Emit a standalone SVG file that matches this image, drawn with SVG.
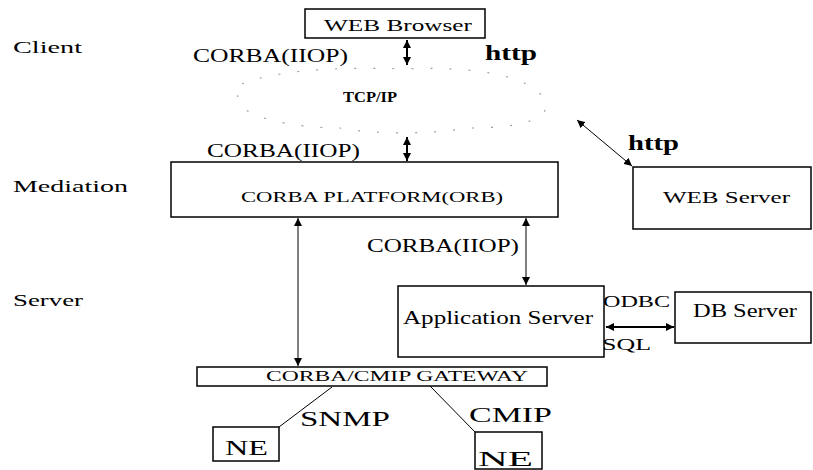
<svg xmlns="http://www.w3.org/2000/svg" width="813" height="470" viewBox="0 0 813 470" font-family="'Liberation Serif', 'DejaVu Serif', serif">
<style>
  text { font-family: "Liberation Serif", "DejaVu Serif", serif; fill: #000; }
  .box { fill: #fff; stroke: #000; stroke-width: 1.5; }
  .ln { stroke: #000; stroke-width: 1; fill: none; }
  .thick { stroke: #000; stroke-width: 2; fill: none; }
  .lbl { font-size: 18px; }
  .bold { font-weight: bold; }
  .cloud { stroke: #a0a0a0; stroke-width: 1.2; fill: none; stroke-dasharray: 2 17; }
</style>
<defs>
  <marker id="ah" viewBox="0 0 10 10" refX="10" refY="5" markerWidth="8" markerHeight="8" markerUnits="userSpaceOnUse" orient="auto-start-reverse">
    <path d="M0,0 L10,5 L0,10 z" fill="#000"/>
  </marker>
</defs>

<g id="tiers">
  <text x="13" y="53" font-size="17" textLength="69" lengthAdjust="spacingAndGlyphs">Client</text>
  <text x="13" y="192" font-size="17" textLength="115" lengthAdjust="spacingAndGlyphs">Mediation</text>
  <text x="13" y="306" font-size="17" textLength="70" lengthAdjust="spacingAndGlyphs">Server</text>
</g>

<g id="cloud">
  <path class="cloud" d="M242,84 C270,72 330,66 400,69 C470,66 530,74 545,100 C552,118 525,128 470,128 C430,134 380,135 340,128 C290,128 240,116 238,100 C237,92 238,88 242,84 Z"/>
  <text x="343" y="102" font-size="14" class="bold" textLength="54" lengthAdjust="spacingAndGlyphs">TCP/IP</text>
</g>

<g id="connectors">
  <line class="thick" x1="407" y1="40" x2="407" y2="65" marker-start="url(#ah)" marker-end="url(#ah)"/>
  <line class="thick" x1="407" y1="137" x2="407" y2="161" marker-start="url(#ah)" marker-end="url(#ah)"/>
  <line class="ln" x1="577" y1="120" x2="632" y2="166" marker-start="url(#ah)" marker-end="url(#ah)"/>
  <line class="ln" x1="298" y1="218" x2="298" y2="366" marker-start="url(#ah)" marker-end="url(#ah)"/>
  <line class="ln" x1="526" y1="218" x2="526" y2="285" marker-start="url(#ah)" marker-end="url(#ah)"/>
  <line class="thick" x1="606" y1="327" x2="674" y2="327" marker-start="url(#ah)" marker-end="url(#ah)"/>
  <line class="ln" x1="332" y1="387" x2="279" y2="427"/>
  <line class="ln" x1="430" y1="386" x2="475" y2="432"/>
  <text x="193" y="62" class="lbl" textLength="155" lengthAdjust="spacingAndGlyphs">CORBA(IIOP)</text>
  <text x="485" y="60" font-size="22" class="bold" textLength="52" lengthAdjust="spacingAndGlyphs">http</text>
  <text x="207" y="157" class="lbl" textLength="153" lengthAdjust="spacingAndGlyphs">CORBA(IIOP)</text>
  <text x="628" y="150" font-size="22" class="bold" textLength="51" lengthAdjust="spacingAndGlyphs">http</text>
  <text x="367" y="252" class="lbl" textLength="152" lengthAdjust="spacingAndGlyphs">CORBA(IIOP)</text>
  <text x="603" y="307" font-size="17" textLength="67" lengthAdjust="spacingAndGlyphs">ODBC</text>
  <text x="602" y="350" font-size="17" textLength="49" lengthAdjust="spacingAndGlyphs">SQL</text>
  <text x="300" y="426" font-size="20" textLength="90" lengthAdjust="spacingAndGlyphs">SNMP</text>
  <text x="469" y="422" font-size="20" textLength="83" lengthAdjust="spacingAndGlyphs">CMIP</text>
</g>

<g id="web-browser">
  <rect class="box" x="305" y="9" width="180" height="29"/>
  <text x="324" y="31" font-size="16" textLength="148" lengthAdjust="spacingAndGlyphs">WEB Browser</text>
</g>

<g id="corba-platform">
  <rect class="box" x="171" y="162" width="387" height="55"/>
  <text x="241" y="202" font-size="15" textLength="262" lengthAdjust="spacingAndGlyphs">CORBA PLATFORM(ORB)</text>
</g>

<g id="web-server">
  <rect class="box" x="633" y="167" width="178" height="62"/>
  <text x="663" y="203" font-size="16" textLength="127" lengthAdjust="spacingAndGlyphs">WEB Server</text>
</g>

<g id="application-server">
  <rect class="box" x="398" y="286" width="206" height="71"/>
  <text x="403" y="324" font-size="18" textLength="190" lengthAdjust="spacingAndGlyphs">Application Server</text>
</g>

<g id="db-server">
  <rect class="box" x="675" y="292" width="136" height="51"/>
  <text x="693" y="317" font-size="18" textLength="104" lengthAdjust="spacingAndGlyphs">DB Server</text>
</g>

<g id="gateway">
  <rect class="box" x="197" y="367" width="350" height="19"/>
  <text x="266" y="381" font-size="14" textLength="262" lengthAdjust="spacingAndGlyphs">CORBA/CMIP GATEWAY</text>
</g>

<g id="ne-snmp">
  <rect class="box" x="213" y="427" width="66" height="34"/>
  <text x="225" y="455" font-size="22" textLength="43" lengthAdjust="spacingAndGlyphs">NE</text>
</g>

<g id="ne-cmip">
  <rect class="box" x="475" y="432" width="67" height="37"/>
  <text x="478" y="466" font-size="22" textLength="55" lengthAdjust="spacingAndGlyphs">NE</text>
</g>
</svg>
